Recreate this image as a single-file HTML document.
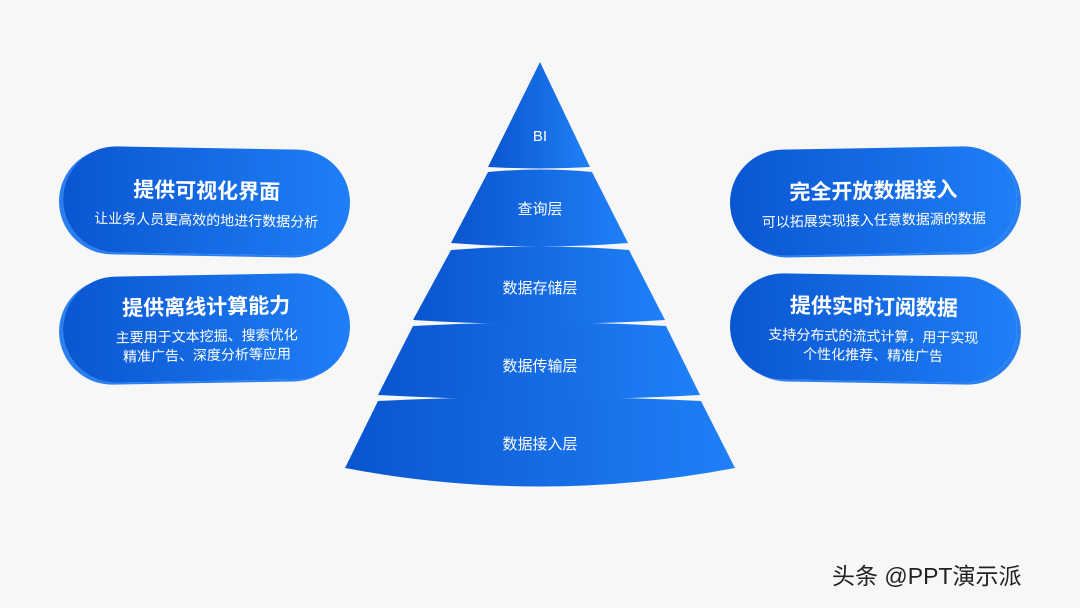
<!DOCTYPE html>
<html><head><meta charset="utf-8"><style>
body{margin:0;width:1080px;height:608px;background:#f7f7f8;position:relative;overflow:hidden;font-family:"Liberation Sans","Noto Sans CJK SC",sans-serif}
.pill{position:absolute;width:287px;height:106px;border-radius:53px;background:linear-gradient(90deg,#0a56d2,#1f7ff6);color:#fff;text-align:center;box-shadow:-4px 2px 0 #2a7ff0}
.pill h1{margin:0;font-size:21px;font-weight:bold}
.pill p{margin:0;font-size:14px;line-height:19px}
.r{box-shadow:4px 2px 0 #2a7ff0}
</style></head><body>
<div class="pill" style="left:63px;top:148px;transform:rotate(1deg)"><h1 style="padding-top:27px">提供可视化界面</h1><p style="margin-top:6px">让业务人员更高效的地进行数据分析</p></div>
<div class="pill" style="left:63px;top:275px;transform:rotate(-1deg)"><h1 style="padding-top:16px">提供离线计算能力</h1><p style="margin-top:6px">主要用于文本挖掘、搜索优化<br>精准广告、深度分析等应用</p></div>
<div class="pill r" style="left:730px;top:148px;transform:rotate(-1deg)"><h1 style="padding-top:27px">完全开放数据接入</h1><p style="margin-top:6px">可以拓展实现接入任意数据源的数据</p></div>
<div class="pill r" style="left:730px;top:275px;transform:rotate(1deg)"><h1 style="padding-top:16px">提供实时订阅数据</h1><p style="margin-top:6px">支持分布式的流式计算，用于实现<br>个性化推荐、精准广告</p></div>
<svg width="1080" height="608" style="position:absolute;left:0;top:0">
<defs><linearGradient id="g" x1="0" x2="1"><stop offset="0" stop-color="#0a55cf"/><stop offset="1" stop-color="#1f80f7"/></linearGradient></defs>
<g fill="url(#g)">
<path d="M540 62 L590 167 Q540 170 488 167 Z"/>
<path d="M488 172 Q540 167 592 172 L628 243 Q540 250 451 243 Z"/>
<path d="M451 250 Q540 243 629 250 L665 320 Q540 328 413 320 Z"/>
<path d="M413 326 Q540 319 666 326 L700 395 Q540 404 378 395 Z"/>
<path d="M378 401 Q540 393 701 401 L735 468 Q540 505 345 468 Z"/>
</g>
<g fill="#fff" font-size="15" text-anchor="middle" font-family="Liberation Sans,Noto Sans CJK SC,sans-serif">
<text x="540" y="141">BI</text>
<text x="540" y="214">查询层</text>
<text x="540" y="293">数据存储层</text>
<text x="540" y="371">数据传输层</text>
<text x="540" y="449">数据接入层</text>
</g>
<text x="832" y="584" font-size="23" fill="#222" font-family="Liberation Sans,Noto Sans CJK SC,sans-serif">头条 @PPT演示派</text>
</svg>
</body></html>
